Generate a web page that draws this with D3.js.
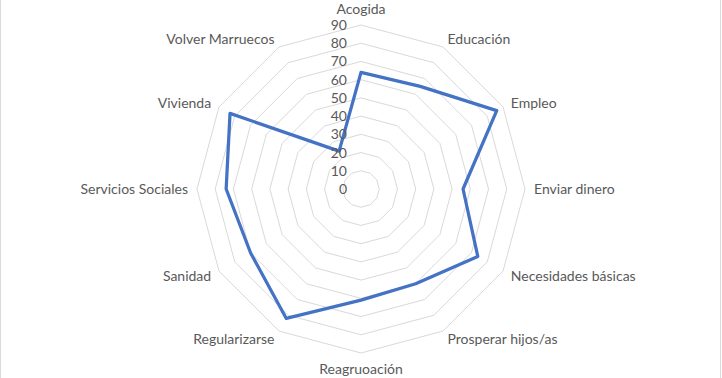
<!DOCTYPE html>
<html><head><meta charset="utf-8">
<script src="https://cdn.jsdelivr.net/npm/d3@7"></script>
<style>html,body{margin:0;padding:0;background:#fff;overflow:hidden}</style>
</head><body>
<svg id="chart" width="722" height="378"></svg>
<script>
const categories = ["Acogida","Educación","Empleo","Enviar dinero","Necesidades básicas","Prosperar hijos/as","Reagruoación","Regularizarse","Sanidad","Servicios Sociales","Vivienda","Volver Marruecos"];
const values = [64, 65, 86, 56, 74, 60, 61, 82, 70, 74, 83, 24];
const tickValues = [0,10,20,30,40,50,60,70,80,90];

const svg = d3.select("#chart");
const W = 722, H = 378;
const cx = 361, cy = 189, R = 164;
const font = "Lato, 'Open Sans', sans-serif";

svg.append("rect").attr("x",0.5).attr("y",-5).attr("width",W-2).attr("height",H+10)
  .attr("fill","#fff").attr("stroke","#d9d9d9").attr("stroke-width",1);

const r = d3.scaleLinear().domain([0,90]).range([0,R]);
const n = categories.length;
const ang = d3.scaleLinear().domain([0,n]).range([0,2*Math.PI]);
const pt = (i,v) => [cx + r(v)*Math.sin(ang(i)), cy - r(v)*Math.cos(ang(i))];

const g = svg.append("g");
tickValues.filter(t=>t>0).forEach(t=>{
  const pts = d3.range(n).map(i=>pt(i,t));
  g.append("path").attr("d", d3.line()(pts)+"Z")
    .attr("fill","none").attr("stroke","#d9d9d9").attr("stroke-width",1);
});

const line = d3.lineRadial().angle((d,i)=>ang(i)).radius(d=>r(d)).curve(d3.curveLinearClosed);
g.append("path").datum(values).attr("transform",`translate(${cx},${cy})`)
  .attr("d", line).attr("fill","none").attr("stroke","#4472C4")
  .attr("stroke-width",3.25).attr("stroke-linejoin","round");

g.selectAll("text.tick").data(tickValues).join("text")
  .attr("x", cx-14).attr("y", d=>cy - r(d)).attr("dy","0.36em")
  .attr("text-anchor","end").attr("font-family",font).attr("font-size","14px")
  .attr("fill","#595959").text(d=>d);

categories.forEach((c,i)=>{
  const a = ang(i);
  const s = Math.sin(a), co = Math.cos(a);
  let anchor = Math.abs(s)<1e-6 ? "middle" : (s>0 ? "start" : "end");
  const off = Math.abs(s)<1e-6 ? 16 : 9;
  const x = cx + (R+off)*s, y = cy - (R+off)*co;
  g.append("text").attr("x",x).attr("y",y).attr("dy","0.36em")
    .attr("text-anchor",anchor).attr("font-family",font).attr("font-size","14px")
    .attr("fill","#595959").text(c);
});
</script>
</body></html>
